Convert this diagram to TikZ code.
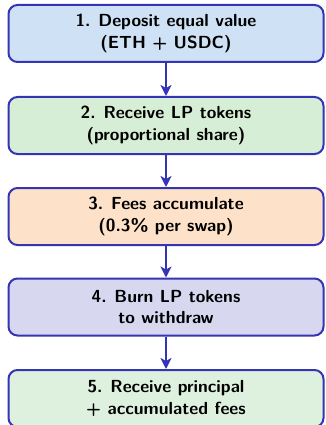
\documentclass[tikz,border=0pt]{standalone}
\usetikzlibrary{arrows.meta}
\definecolor{edgeblue}{RGB}{52,52,180}
\definecolor{fillA}{RGB}{207,225,245}
\definecolor{fillB}{RGB}{214,237,214}
\definecolor{fillC}{RGB}{253,225,200}
\definecolor{fillD}{RGB}{215,215,240}
\definecolor{fillE}{RGB}{222,241,222}
\newcommand{\stepgap}{\hspace{0.45em}}
\tikzset{
  stepbox/.style={draw=edgeblue, line width=2pt, rounded corners=9pt,
    minimum width=315pt, minimum height=57pt, align=center,
    font=\sffamily\bfseries\fontsize{17.5}{21.5}\selectfont, inner sep=0pt},
  flow/.style={draw=edgeblue, line width=2pt,
    -{Stealth[length=11pt, width=11pt, inset=3pt]}}
}
\begin{document}
\begin{tikzpicture}[x=1pt, y=-1pt]
  \useasboundingbox (0,0) rectangle (325,425);
  \node[stepbox, fill=fillA] (s1) at (166,33.5) {1.\stepgap Deposit equal value\\(ETH + USDC)};
  \node[stepbox, fill=fillB] (s2) at (166,125.5) {2.\stepgap Receive LP tokens\\(proportional share)};
  \node[stepbox, fill=fillC] (s3) at (166,216.5) {3.\stepgap Fees accumulate\\(0.3\% per swap)};
  \node[stepbox, fill=fillD] (s4) at (166,307) {4.\stepgap Burn LP tokens\\to withdraw};
  \node[stepbox, fill=fillE] (s5) at (166,398.5) {5.\stepgap Receive principal\\+ accumulated fees};
  \draw[flow] (s1) -- (s2);
  \draw[flow] (s2) -- (s3);
  \draw[flow] (s3) -- (s4);
  \draw[flow] (s4) -- (s5);
\end{tikzpicture}
\end{document}
